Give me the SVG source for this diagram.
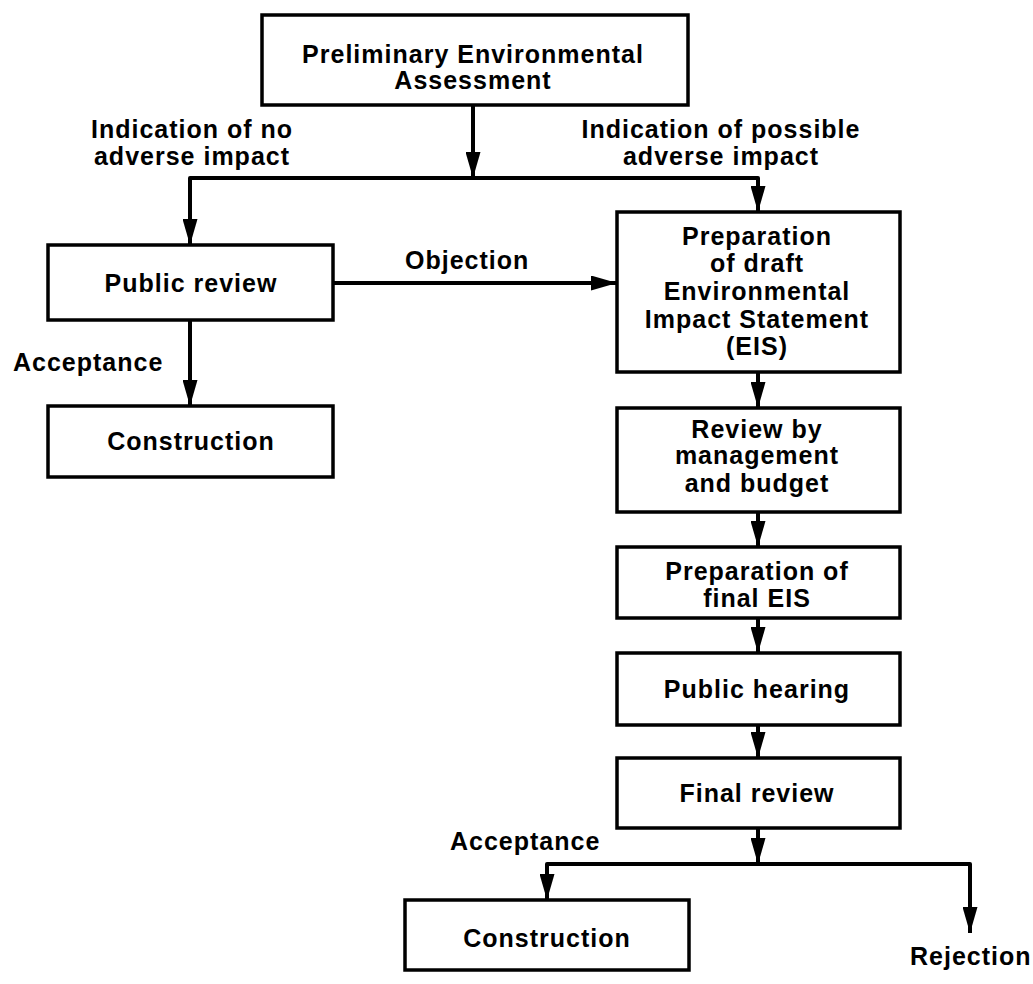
<svg xmlns="http://www.w3.org/2000/svg" width="1033" height="984" viewBox="0 0 1033 984">
<style>
.box{fill:#fff;stroke:#000;stroke-width:3.5}
.con{fill:none;stroke:#000;stroke-width:4;stroke-linejoin:round}
text{font-family:"Liberation Sans",Arial,sans-serif;font-weight:bold;font-size:25px;letter-spacing:1px;fill:#000}
.c{text-anchor:middle}
</style>
<defs>
<marker id="ah" markerUnits="userSpaceOnUse" viewBox="0 0 26 15" refX="26" refY="7.5" markerWidth="26" markerHeight="15" orient="auto">
<path d="M0,0 L26,7.5 L0,15 Z" fill="#000"/>
</marker>
</defs>
<rect width="1033" height="984" fill="#fff"/>
<g id="connectors">
<path class="con" d="M473,105 V178" marker-end="url(#ah)"/>
<path class="con" d="M473,178 H190 V245" marker-end="url(#ah)"/>
<path class="con" d="M473,178 H758 V212" marker-end="url(#ah)"/>
<path class="con" d="M333,283 H617" marker-end="url(#ah)"/>
<path class="con" d="M190,320 V406" marker-end="url(#ah)"/>
<path class="con" d="M758,372 V408" marker-end="url(#ah)"/>
<path class="con" d="M758,512 V547" marker-end="url(#ah)"/>
<path class="con" d="M758,618 V653" marker-end="url(#ah)"/>
<path class="con" d="M758,725 V758" marker-end="url(#ah)"/>
<path class="con" d="M758,828 V864" marker-end="url(#ah)"/>
<path class="con" d="M758,864 H547 V900" marker-end="url(#ah)"/>
<path class="con" d="M758,864 H970 V933" marker-end="url(#ah)"/>
</g>
<g id="labels">
<text class="c" x="192" y="138">Indication of no</text>
<text class="c" x="192" y="165">adverse impact</text>
<text class="c" x="721" y="138">Indication of possible</text>
<text class="c" x="721" y="165">adverse impact</text>
<text x="405" y="269">Objection</text>
<text x="13" y="371">Acceptance</text>
<text x="450" y="850">Acceptance</text>
<text x="910" y="965">Rejection</text>
</g>
<g id="n-prelim">
<rect class="box" x="262" y="15" width="426" height="90"/>
<text class="c" x="473" y="63">Preliminary Environmental</text>
<text class="c" x="473" y="89">Assessment</text>
</g>
<g id="n-public-review">
<rect class="box" x="48" y="245" width="285" height="75"/>
<text class="c" x="191" y="292">Public review</text>
</g>
<g id="n-construction-1">
<rect class="box" x="48" y="406" width="285" height="71"/>
<text class="c" x="191" y="450">Construction</text>
</g>
<g id="n-draft-eis">
<rect class="box" x="617" y="212" width="283" height="160"/>
<text class="c" x="757" y="245">Preparation</text>
<text class="c" x="757" y="272">of draft</text>
<text class="c" x="757" y="300">Environmental</text>
<text class="c" x="757" y="328">Impact Statement</text>
<text class="c" x="757" y="355">(EIS)</text>
</g>
<g id="n-review-mgmt">
<rect class="box" x="617" y="408" width="283" height="104"/>
<text class="c" x="757" y="438">Review by</text>
<text class="c" x="757" y="464">management</text>
<text class="c" x="757" y="492">and budget</text>
</g>
<g id="n-final-eis">
<rect class="box" x="617" y="547" width="283" height="71"/>
<text class="c" x="757" y="580">Preparation of</text>
<text class="c" x="757" y="607">final EIS</text>
</g>
<g id="n-public-hearing">
<rect class="box" x="617" y="653" width="283" height="72"/>
<text class="c" x="757" y="698">Public hearing</text>
</g>
<g id="n-final-review">
<rect class="box" x="617" y="758" width="283" height="70"/>
<text class="c" x="757" y="802">Final review</text>
</g>
<g id="n-construction-2">
<rect class="box" x="405" y="900" width="284" height="70"/>
<text class="c" x="547" y="947">Construction</text>
</g>
</svg>
